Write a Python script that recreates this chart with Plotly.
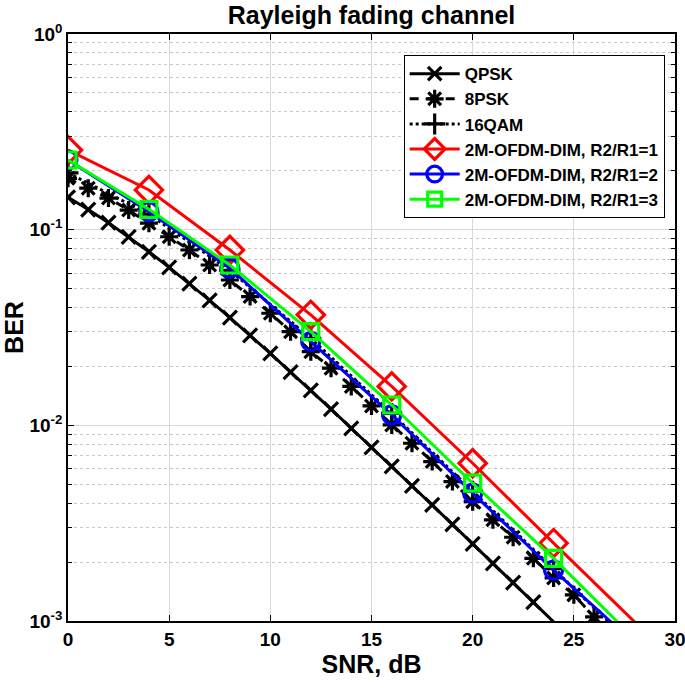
import plotly.graph_objects as go

# ---------------- data ----------------
snr_1db_qpsk = list(range(0, 25))
ber_qpsk = [0.1464, 0.1267, 0.1085, 0.0919, 0.0771, 0.0642, 0.0530, 0.0435, 0.0355,
            0.0288, 0.0233, 0.0187, 0.0151, 0.0121, 0.00966, 0.00772, 0.00617,
            0.00491, 0.00392, 0.00312, 0.00248, 0.00197, 0.00157, 0.00125, 0.00099]

snr_1db_8psk = list(range(0, 28))
ber_8psk = [0.183, 0.163, 0.145, 0.126, 0.108, 0.092, 0.0787, 0.066, 0.0553, 0.0455,
            0.0374, 0.0301, 0.0238, 0.0196, 0.0158, 0.01257, 0.01005, 0.0081, 0.00653,
            0.00516, 0.00407, 0.00329, 0.00268, 0.00209, 0.00166, 0.00136, 0.00105, 0.00083]

snr_4db = [0, 4, 8, 12, 16, 20, 24, 28]
ber_16qam = [0.195, 0.120, 0.062, 0.0278, 0.0115, 0.0046, 0.00185, 0.00074]
ber_dim_r1 = [0.255, 0.1595, 0.0787, 0.0367, 0.0158, 0.0064, 0.00250, 0.00099]
ber_dim_r2 = [0.227, 0.1236, 0.0635, 0.0268, 0.0113, 0.0045, 0.00182, 0.00077]
ber_dim_r3 = [0.227, 0.1270, 0.0660, 0.0301, 0.0127, 0.00506, 0.00209, 0.00081]

names = ["QPSK", "8PSK", "16QAM", "2M-OFDM-DIM, R2/R1=1",
         "2M-OFDM-DIM, R2/R1=2", "2M-OFDM-DIM, R2/R1=3"]

x_ticks = [0, 5, 10, 15, 20, 25, 30]
y_ticks = [1e-3, 1e-2, 1e-1, 1]
y_tick_text = ["10<sup>-3</sup>", "10<sup>-2</sup>", "10<sup>-1</sup>", "10<sup>0</sup>"]
y_minor_mantissa = [2, 3, 4, 5, 6, 7, 8, 9]
y_decades = [1e-3, 1e-2, 1e-1]
y_minor_ticks = [m * d for d in y_decades for m in y_minor_mantissa]

FONT = "Liberation Sans, Arial, Helvetica, sans-serif"


def sizes(n, s, hide_last=False):
    out = [s] * n
    if hide_last:
        out[-1] = 0
    return out


def add(x, y, name, color, dash, symbol, size, hide_last=False):
    fig.add_trace(go.Scatter(
        x=x, y=y, name=name, mode="lines+markers",
        line=dict(color=color, width=3, dash=dash),
        marker=dict(symbol=symbol, size=sizes(len(y), size, hide_last), color=color,
                    opacity=1, line=dict(color=color, width=3.2)),
    ))


fig = go.Figure()
add(snr_1db_qpsk, ber_qpsk, names[0], "#000000", "solid", "x-thin-open", 14, True)
add(snr_1db_8psk, ber_8psk, names[1], "#000000", "dash", "asterisk-open", 15)
add(snr_4db, ber_16qam, names[2], "#000000", "dot", "cross-thin-open", 15)
add(snr_4db, ber_dim_r1, names[3], "#ff0000", "solid", "diamond-open", 21, True)
add(snr_4db, ber_dim_r2, names[4], "#0000ff", "solid", "circle-open", 18, True)
add(snr_4db, ber_dim_r3, names[5], "#00ff00", "solid", "square-open", 16, True)

fig.update_layout(
    width=685, height=691,
    margin=dict(l=68, r=10, t=34, b=70),
    paper_bgcolor="white", plot_bgcolor="white",
    font=dict(family=FONT, color="black", size=19),
    title=dict(text="<b>Rayleigh fading channel</b>", x=(68 + 675) / 2 / 685, xanchor="center",
               y=1 - 15 / 691, yanchor="middle", font=dict(size=25, family=FONT)),
    legend=dict(x=0.983, xanchor="right", y=0.964, yanchor="top",
                bordercolor="black", borderwidth=1, bgcolor="white",
                font=dict(size=17, family=FONT, weight="bold"), tracegroupgap=0,
                itemwidth=50),
    showlegend=True,
    hovermode=False,
)

fig.update_xaxes(
    range=[0, 30], tickvals=x_ticks, ticktext=[f"<b>{v}</b>" for v in x_ticks],
    showline=True, linecolor="black", linewidth=1.5, mirror="ticks",
    ticks="inside", ticklen=6, tickcolor="black", automargin=False,
    ticklabeloverflow="allow",
    showgrid=True, gridcolor="#d9d9d9", gridwidth=1, zeroline=False,
    title=dict(text="<b>SNR, dB</b>", font=dict(size=25, family=FONT), standoff=7),
    tickfont=dict(size=19),
)
fig.update_yaxes(
    type="log", range=[-3, 0], tickvals=y_ticks, ticktext=[f"<b>{t}</b>" for t in y_tick_text],
    showline=True, linecolor="black", linewidth=1.5, mirror="ticks",
    ticks="inside", ticklen=6, tickcolor="black", automargin=False,
    ticklabeloverflow="allow",
    showgrid=True, gridcolor="#d9d9d9", gridwidth=1, zeroline=False,
    minor=dict(tickmode="array", tickvals=y_minor_ticks, ticks="inside", ticklen=4,
               tickcolor="black", showgrid=True,
               gridcolor="#c8c8c8", griddash="dot", gridwidth=1),
    title=dict(text="<b>BER</b>", font=dict(size=25, family=FONT), standoff=4),
    tickfont=dict(size=19),
)

fig.write_html("out.html", config={"displayModeBar": False},
               post_script="document.body.style.margin='0';")
